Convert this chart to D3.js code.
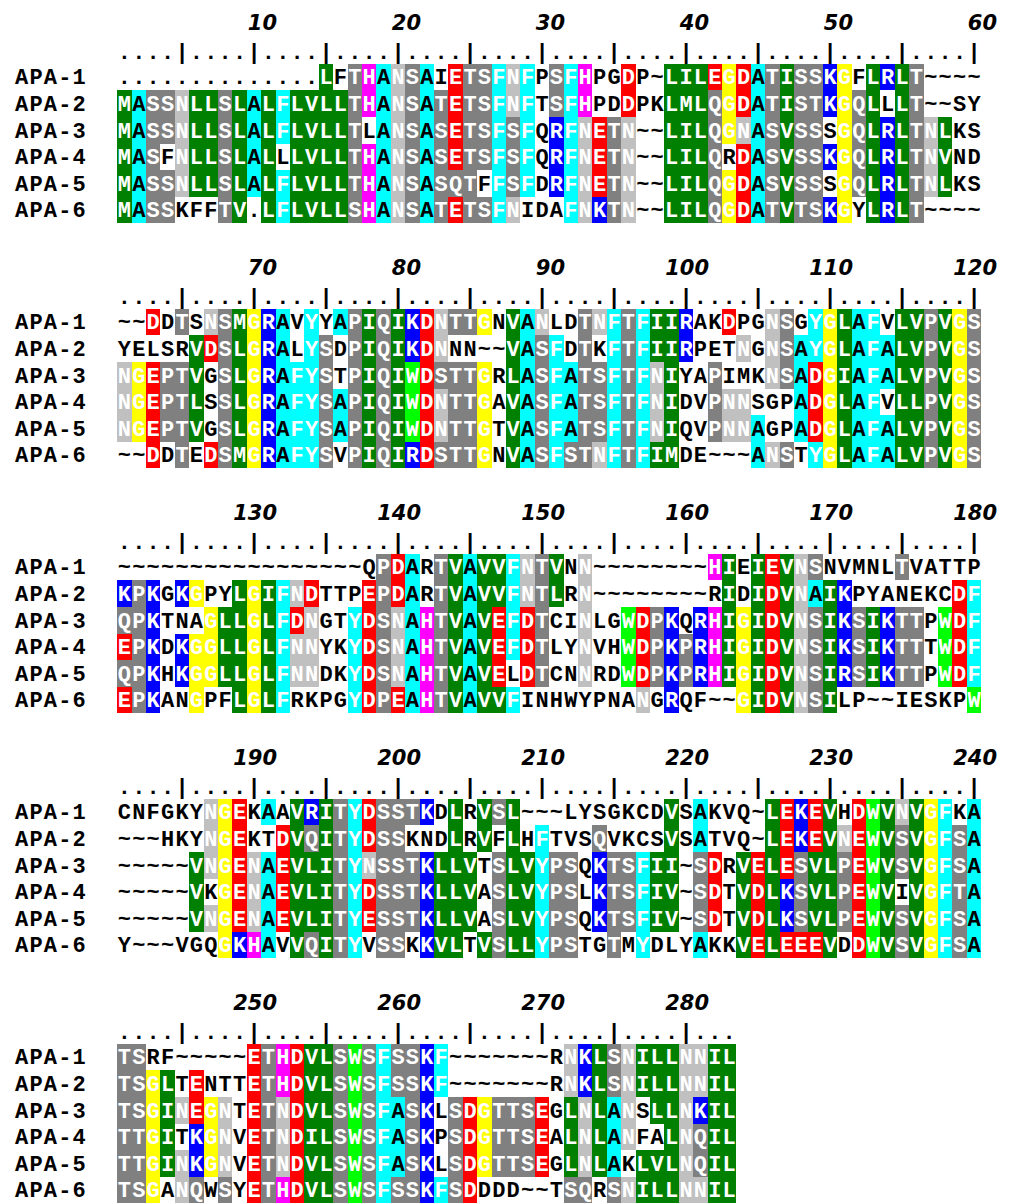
<!DOCTYPE html>
<html>
<head>
<meta charset="utf-8">
<script src="https://cdn.jsdelivr.net/npm/d3@7"></script>
<style>
  html, body { margin: 0; padding: 0; background: #ffffff; }
  svg { display: block; }
</style>
</head>
<body>
<svg id="chart" width="1013" height="1203"></svg>
<script>
// ---------------- DATA ----------------
const seqNames = ["APA-1", "APA-2", "APA-3", "APA-4", "APA-5", "APA-6"];
const blockStarts = [1, 61, 121, 181, 241];

// aligned sequences, one array per block of 60 columns
const seqBlock1 = [
  "..............LFTHANSAIETSFNFPSFHPGDP~LILEGDATISSKGFLRLT~~~~",
  "MASSNLLSLALFLVLLTHANSATETSFNFTSFHPDDPKLMLQGDATISTKGQLLLT~~SY",
  "MASSNLLSLALFLVLLTLANSASETSFSFQRFNETN~~LILQGNASVSSSGQLRLTNLKS",
  "MASFNLLSLALLLVLLTHANSASETSFSFQRFNETN~~LILQRDASVSSKGQLRLTNVND",
  "MASSNLLSLALFLVLLTHANSASQTFFSFDRFNETN~~LILQGDASVSSSGQLRLTNLKS",
  "MASSKFFTV.LFLVLLSHANSATETSFNIDAFNKTN~~LILQGDATVTSKGYLRLT~~~~"
];
const seqBlock2 = [
  "~~DDTSNSMGRAVYYAPIQIKDNTTGNVANLDTNFTFIIRAKDPGNSGYGLAFVLVPVGS",
  "YELSRVDSLGRALYSDPIQIKDNNN~~VASFDTKFTFIIRPETNGNSAYGLAFALVPVGS",
  "NGEPTVGSLGRAFYSTPIQIWDSTTGRLASFATSFTFNIYAPIMKNSADGIAFALVPVGS",
  "NGEPTLSSLGRAFYSAPIQIWDNTTGAVASFATSFTFNIDVPNNSGPADGLAFVLLPVGS",
  "NGEPTVGSLGRAFYSAPIQIWDNTTGTVASFATSFTFNIQVPNNAGPADGLAFALVPVGS",
  "~~DDTEDSMGRAFYSVPIQIRDSTTGNVASFSTNFTFIMDE~~~ANSTYGLAFALVPVGS"
];
const seqBlock3 = [
  "~~~~~~~~~~~~~~~~~QPDARTVAVVFNTVNN~~~~~~~~HIEIEVNSNVMNLTVATTP",
  "KPKGKGPYLGIFNDTTPEPDARTVAVVFNTLRN~~~~~~~~RIDIDVNAIKPYANEKCDF",
  "QPKTNAGLLGLFDNGTYDSNAHTVAVEFDTCINLGWDPKQRHIGIDVNSIKSIKTTPWDF",
  "EPKDKGGLLGLFNNYKYDSNAHTVAVEFDTLYNVHWDPKPRHIGIDVNSIKSIKTTTWDF",
  "QPKHKGGLLGLFNNDKYDSNAHTVAVELDTCNNRDWDPKPRHIGIDVNSIRSIKTTPWDF",
  "EPKANGPFLGLFRKPGYDPEAHTVAVVFINHWYPNANGRQF~~GIDVNSILP~~IESKPW"
];
const seqBlock4 = [
  "CNFGKYNGEKAAVRITYDSSTKDLRVSL~~~LYSGKCDVSAKVQ~LEKEVHDWVNVGFKA",
  "~~~HKYNGEKTDVQITYDSSKNDLRVFLHFTVSQVKCSVSATVQ~LEKEVNEWVSVGFSA",
  "~~~~~VNGENAEVLITYNSSTKLLVTSLVYPSQKTSFII~SDRVELESVLPEWVSVGFSA",
  "~~~~~VKGENAEVLITYDSSTKLLVASLVYPSLKTSFIV~SDTVDLKSVLPEWVIVGFTA",
  "~~~~~VNGENAEVLITYESSTKLLVASLVYPSQKTSFIV~SDTVDLKSVLPEWVSVGFSA",
  "Y~~~VGQGKHAVVQITYVSSKKVLTVSLLYPSTGTMYDLYAKKVELEEEVDDWVSVGFSA"
];
const seqBlock5 = [
  "TSRF~~~~~ETHDVLSWSFSSKF~~~~~~~RNKLSNILLNNIL",
  "TSGLTENTTETHDVLSWSFSSKF~~~~~~~RNKLSNILLNNIL",
  "TSGINEGNTETNDVLSWSFASKLSDGTTSEGLNLANSLLNKIL",
  "TTGITKGNVETNDILSWSFASKPSDGTTSEALNLANFALNQIL",
  "TTGINKGNVETNDVLSWSFASKLSDGTTSEGLNLAKLVLNQIL",
  "TSGANQWSYETHDVLSWSFSSKFSDDDD~~TSQRSNILLNNIL"
];

// shading: '#' = shaded in the residue's colour, '.' = not shaded
const shadeBlock1 = [
  ".......... ....#.#### ##.######. ###..#..## ########## #.####....",
  "########## ########## #########. ###..#..## ########## ###.##....",
  "########## #######.## #########. ######..## #########. ########..",
  "###.###### #.######## #########. ######..## ##.####### ########..",
  "########## ########## #####.###. ######..## #########. ########..",
  "####...##. ########## ########.. .#####..## ########## #.####...."
];
const shadeBlock2 = [
  "..#.#.#### ##.#.##### ######.### ..######## ..#..##.## ###.######",
  ".....##### ##.##.#### ###....### #.#.###### ...#.##### ##########",
  "######.### #####.#### ######.### #########. .#...##### ##########",
  "######.### ########## ######.### #########. .###...### ###.######",
  "######.### ########## ######.### #########. .####..### ##########",
  "..#.#.#### #####.#### ######.### #########. ....###.## ##########"
];
const shadeBlock3 = [
  ".......... ........## #.######## #.#....... .##.#####. ....#.....",
  "###.##..## ####...### #.######## #.#....... ..#.###### #.......##",
  "###...#### ####..#### ########## ..#..####. ########## ######.###",
  "###.###### ####..#### ########## ..#..##### ########## ######.###",
  "###.###### ####..#### #######.## ..#..##### ########## ######.###",
  "###..#..## ##....#### ########.. ......#.#. ...####### .........#"
];
const shadeBlock4 = [
  "......###. #.######## ##.#.###.. ........#. #....##### .#######.#",
  "......###. .######### ...#.#.#.# ...#....#. #....##### ##########",
  ".....##### ########## #####.#### ##.######. ##.####### ##########",
  ".....#.### ########## #####.#### ##.######. ##.####### ####.#####",
  ".....##### ########## #####.#### ##.######. ##.####### ##########",
  ".......### #.#####.## .###.##### ##..#.#... #..####### .#########"
];
const shadeBlock5 = [
  "##.......# ########## ###....... .######### ###",
  "####.#...# ########## ###....... .######### ###",
  "########.# ########## ##.####### .#####.### ###",
  "####.###.# ########## ##.####### .#####..## ###",
  "########.# ########## ##.####### .####.#### ###",
  "###.##.#.# ########## #####..... .##.###### ###"
];

// residue -> shading class
const residueClass = {
  L: "hyd", I: "hyd", V: "hyd", M: "hyd",
  F: "aro", Y: "aro", A: "aro",
  W: "trp", G: "gly", D: "acid", E: "acid",
  K: "base", R: "base", H: "his",
  S: "small", T: "small", P: "small", Q: "small",
  N: "asn"
};
const shadeClasses = ["hyd", "aro", "trp", "gly", "acid", "base", "his", "small", "asn"];
const shadeColours = ["#008000", "#00ffff", "#00ff00", "#ffff00", "#ff0000", "#0000ff", "#ff00ff", "#808080", "#c0c0c0"];

// ---------------- DRAWING ----------------
const seqBlocks = [seqBlock1, seqBlock2, seqBlock3, seqBlock4, seqBlock5];
const shadeBlocks = [shadeBlock1, shadeBlock2, shadeBlock3, shadeBlock4, shadeBlock5];

const svg = d3.select("#chart");
const colour = d3.scaleOrdinal().domain(shadeClasses).range(shadeColours);

const colW = 14.4, rowH = 26.6;
const x = d3.scaleBand().domain(d3.range(1, 61)).range([117.2, 117.2 + 60 * colW]).paddingInner(0).paddingOuter(0);
const blockY = d3.scaleLinear().domain([0, 4]).range([77, 1057]);   // centre of APA-1 row
const rowY = d3.scaleBand().domain(seqNames).range([-rowH / 2, -rowH / 2 + 6 * rowH]);

const monoFont = "'Liberation Mono', 'Courier New', monospace";

const cells = [];
seqBlocks.forEach((rows, bi) => {
  rows.forEach((s, ri) => {
    const m = shadeBlocks[bi][ri].replace(/ /g, "");
    if (m.length !== s.length) console.warn("length mismatch", bi, ri, m.length, s.length);
    [...s].forEach((ch, ci) => {
      const code = m[ci];
      const cls = code === "#" ? (residueClass[ch] || null) : null;
      cells.push({ bi, ri, col: ci + 1, ch, cls });
    });
  });
});

const g = svg.append("g");

// shaded boxes
g.append("g").attr("shape-rendering", "crispEdges")
  .selectAll("rect")
  .data(cells.filter(d => d.cls))
  .join("rect")
  .attr("x", d => x(d.col))
  .attr("y", d => blockY(d.bi) + rowY(seqNames[d.ri]))
  .attr("width", x.bandwidth())
  .attr("height", rowY.bandwidth())
  .attr("fill", d => colour(d.cls));

// residue letters
g.append("g")
  .attr("font-family", monoFont).attr("font-weight", "bold").attr("font-size", 22)
  .attr("text-anchor", "middle")
  .selectAll("text")
  .data(cells)
  .join("text")
  .attr("x", d => x(d.col) + x.bandwidth() / 2)
  .attr("y", d => blockY(d.bi) + rowY(seqNames[d.ri]) + rowY.bandwidth() / 2 + 7.4)
  .attr("fill", d => d.cls ? (d.ch === "A" ? "#000" : "#fff") : "#000")
  .text(d => d.ch);

// sequence names
blockStarts.forEach((start, bi) => {
  g.append("g")
    .attr("font-family", monoFont).attr("font-weight", "bold").attr("font-size", 22)
    .attr("letter-spacing", "1.2px")
    .selectAll("text")
    .data(seqNames)
    .join("text")
    .attr("x", 15)
    .attr("y", n => blockY(bi) + rowY(n) + rowY.bandwidth() / 2 + 7.4)
    .attr("fill", "#000")
    .text(n => n);

  const nCols = seqBlocks[bi][0].length;
  const cols = d3.range(1, nCols + 1);

  // ruler
  g.append("g")
    .attr("font-family", monoFont).attr("font-weight", "bold").attr("font-size", 22)
    .attr("text-anchor", "middle")
    .selectAll("text")
    .data(cols)
    .join("text")
    .attr("x", c => x(c) + x.bandwidth() / 2)
    .attr("y", blockY(bi) - 18.5)
    .attr("fill", "#000")
    .text(c => ((start + c - 1) % 5 === 0 ? "|" : "."));

  // position numbers
  g.append("g")
    .attr("font-family", "'DejaVu Sans', Verdana, sans-serif")
    .attr("font-weight", "bold").attr("font-style", "italic").attr("font-size", 21)
    .attr("text-anchor", "end")
    .selectAll("text")
    .data(cols.filter(c => (start + c - 1) % 10 === 0))
    .join("text")
    .attr("x", c => x(c) + x.bandwidth() / 2 + 23)
    .attr("y", blockY(bi) - 47)
    .attr("fill", "#000")
    .text(c => start + c - 1);
});
</script>
</body>
</html>
